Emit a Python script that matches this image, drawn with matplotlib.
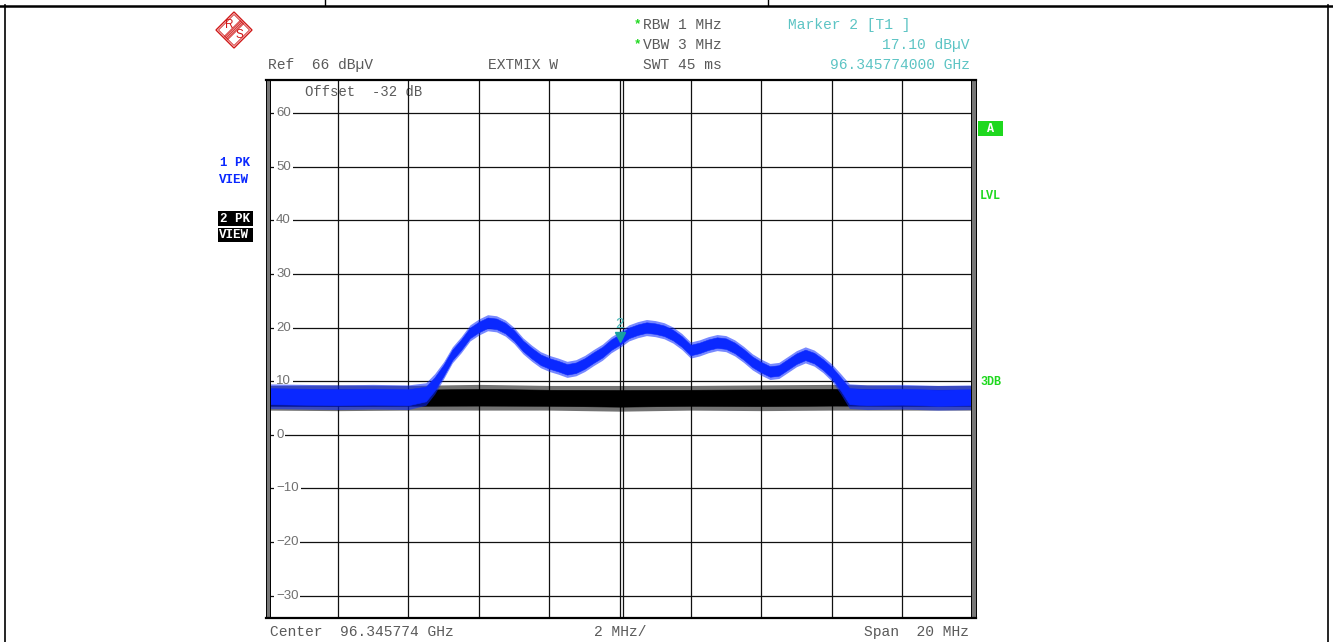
import matplotlib
matplotlib.use("Agg")
import matplotlib.pyplot as plt
from matplotlib.patches import Polygon, Rectangle
from matplotlib.transforms import offset_copy
import numpy as np

# ---------------- data ----------------
# frequency offset from centre (MHz), span 20 MHz
trace1_freq = [-10, -9, -8, -7, -6, -5.5, -5.25, -5, -4.75, -4.5, -4.25, -4,
               -3.75, -3.5, -3.25, -3, -2.75, -2.5, -2.25, -2, -1.75, -1.5,
               -1.25, -1, -0.75, -0.5, -0.25, 0, 0.25, 0.5, 0.75, 1, 1.25, 1.5,
               1.75, 2, 2.25, 2.5, 2.75, 3, 3.25, 3.5, 3.75, 4, 4.25, 4.5, 4.75,
               5, 5.25, 5.5, 5.75, 6, 6.25, 6.5, 7, 8, 9, 10]
# level (dBµV) of the middle of the noisy trace band
trace1_level = [7.2, 7.1, 7.0, 7.1, 7.0, 7.6, 9.5, 12.0, 14.9, 16.8, 19.0, 20.1,
                20.9, 20.7, 19.9, 18.5, 16.6, 15.2, 14.0, 13.3, 12.8, 12.2,
                12.5, 13.3, 14.4, 15.4, 16.8, 17.8, 19.0, 19.6, 20.0, 19.8, 19.4,
                18.6, 17.4, 15.8, 16.2, 16.8, 17.2, 17.0, 16.2, 15.0, 13.6, 12.6,
                11.8, 12.0, 13.1, 14.2, 14.9, 14.3, 13.1, 11.6, 9.5, 7.2, 7.0,
                7.1, 6.9, 7.0]
# half height (dB) of the noisy band
trace1_spread = [2.3, 2.3, 2.3, 2.3, 2.3, 2.1, 1.9, 1.6, 1.5, 1.5, 1.5, 1.5,
                 1.5, 1.5, 1.5, 1.5, 1.5, 1.5, 1.5, 1.5, 1.5, 1.5, 1.5, 1.5,
                 1.5, 1.5, 1.5, 1.5, 1.5, 1.5, 1.5, 1.5, 1.5, 1.5, 1.5, 1.5,
                 1.5, 1.5, 1.5, 1.5, 1.5, 1.5, 1.5, 1.5, 1.5, 1.5, 1.5, 1.5,
                 1.5, 1.5, 1.5, 1.6, 1.9, 2.3, 2.3, 2.3, 2.3, 2.3]

trace2_freq = [-10, -8, -6, -4, -2, 0, 2, 4, 6, 8, 10]
trace2_level = [6.9, 6.9, 6.9, 7.0, 6.9, 6.8, 6.9, 6.9, 7.0, 6.9, 6.9]
trace2_spread = [2.3, 2.4, 2.3, 2.4, 2.3, 2.4, 2.3, 2.4, 2.4, 2.3, 2.3]

marker_freq = 0.0
marker_level = 17.1

y_ticks = [60, 50, 40, 30, 20, 10, 0, -10, -20, -30]
x_grid = [-8, -6, -4, -2, 0, 2, 4, 6, 8]
ref_level = 66
bottom_level = -34

# ---------------- figure ----------------
W, H = 1333, 642
fig = plt.figure(figsize=(W / 100, H / 100), dpi=100)
fig.patch.set_facecolor("white")

MONO = "Liberation Mono"
SANS = "Liberation Sans"
GRAY = "#5a5a5a"
TEAL = "#5cc4c4"
GREEN = "#1ed81e"
BLUE = "#0a28ff"

L, R, T, B = 267, 973, 81, 617
ax = fig.add_axes([L / W, 1 - B / H, (R - L) / W, (B - T) / H])
ax.set_xlim(-10, 10)
ax.set_ylim(bottom_level, ref_level)
ax.set_xticks([])
ax.set_yticks([])
for s in ax.spines.values():
    s.set_visible(False)
ax.set_zorder(1)

for yv in y_ticks:
    ax.axhline(yv, color="#111111", lw=0.9, zorder=1)
    lbl = str(yv).replace("-", "\u2212")
    ax.text(-9.745, yv, lbl, fontsize=9.5, family=SANS, color="#707070",
            ha="left", va="center", zorder=2,
            bbox=dict(boxstyle="square,pad=0.15", fc="white", ec="none"))
for xv in x_grid:
    ax.axvline(xv, color="#111111", lw=0.9, zorder=1)
ax.axvline(0.085, color="#111111", lw=0.9, zorder=1)

ax.text(-8.93, 64.0, "Offset  -32 dB", family=MONO, fontsize=10, color=GRAY,
        ha="left", va="center", zorder=0.5)


def band(freq, level, spread, color, z):
    f = np.asarray(freq, float)
    lv = np.asarray(level, float)
    sp = np.asarray(spread, float)
    ax.fill_between(f, lv - sp, lv + sp, color=color, alpha=0.55, lw=0, zorder=z)
    ax.fill_between(f, lv - 0.65 * sp, lv + 0.65 * sp, color=color, lw=0.4,
                    zorder=z + 0.1)


band(trace2_freq, trace2_level, trace2_spread, "black", 3)
band(trace1_freq, trace1_level, trace1_spread, BLUE, 4)

tr = offset_copy(ax.transData, fig=fig, x=0, y=4.5, units="points")
ax.plot([marker_freq], [marker_level], marker="v", color="#17a0a0", ms=7,
        transform=tr, zorder=6, lw=0)
ax.annotate("2", (marker_freq, marker_level), xytext=(0, 14),
            textcoords="offset points", ha="center", va="center",
            fontsize=11, family=SANS, color="#48b8b8", zorder=6)

# ---------------- overlay in pixel coordinates ----------------
ov = fig.add_axes([0, 0, 1, 1])
ov.set_xlim(0, W)
ov.set_ylim(H, 0)
ov.axis("off")
ov.patch.set_alpha(0)
ov.set_zorder(2)

# outer page border
ov.plot([0, W], [5.5, 5.5], color="black", lw=1.8)
ov.plot([4.5, 4.5], [5, H], color="black", lw=1.2)
ov.plot([1328, 1328], [5, H], color="black", lw=1.2)
ov.plot([325, 325], [0, 5], color="black", lw=1.0)
ov.plot([768, 768], [0, 5], color="black", lw=1.0)

# plot frame
ov.add_patch(Rectangle((265.5, 80), 4, 538, fc="#777777", ec="black", lw=0.7))
ov.add_patch(Rectangle((971, 80), 4.5, 538, fc="#777777", ec="black", lw=0.7))
ov.plot([265.5, 976], [80, 80], color="black", lw=1.6)
ov.plot([265.5, 976], [617.5, 617.5], color="black", lw=1.6)

# R&S logo
red = "#d01818"
cx, cy, r = 234, 30, 18
ov.add_patch(Polygon([(cx, cy - r), (cx + r, cy), (cx, cy + r), (cx - r, cy)],
                     closed=True, fill=False, ec=red, lw=1.0))
r2 = r - 2.5
ov.add_patch(Polygon([(cx, cy - r2), (cx + r2, cy), (cx, cy + r2), (cx - r2, cy)],
                     closed=True, fill=False, ec=red, lw=0.6))
for d in [-2.4, -1.2, 0, 1.2, 2.4]:
    o = d / 1.414
    ov.plot([cx + 8 + o, cx - 8 + o], [cy - 8 + o, cy + 8 + o], color=red, lw=0.6)
ov.text(cx - 5, cy - 5.5, "R", color=red, fontsize=8.5, family=SANS, ha="center", va="center")
ov.text(cx + 5, cy + 5, "S", color=red, fontsize=8.5, family=SANS, ha="center", va="center")


def t(x, y, s, **kw):
    kw.setdefault("family", MONO)
    kw.setdefault("fontsize", 10.5)
    kw.setdefault("color", GRAY)
    kw.setdefault("ha", "left")
    kw.setdefault("va", "center")
    ov.text(x, y, s, **kw)


t(634, 24, "*", color=GREEN, fontsize=9, weight="bold")
t(634, 44, "*", color=GREEN, fontsize=9, weight="bold")
t(643, 25, "RBW 1 MHz")
t(643, 45, "VBW 3 MHz")
t(643, 65, "SWT 45 ms")
t(788, 25, "Marker 2 [T1 ]", color=TEAL)
t(970, 45, "17.10 dB\u00b5V", color=TEAL, ha="right")
t(970, 65, "96.345774000 GHz", color=TEAL, ha="right")
t(268, 65, "Ref  66 dB\u00b5V")
t(488, 65, "EXTMIX W")

t(270, 632, "Center  96.345774 GHz")
t(594, 632, "2 MHz/")
t(969, 632, "Span  20 MHz", ha="right")

# side annotations
t(220, 163, "1 PK", color=BLUE, fontsize=9, weight="bold")
t(219, 180, "VIEW", color=BLUE, fontsize=9, weight="bold")
ov.add_patch(Rectangle((218, 211), 35, 15, fc="black", ec="none"))
ov.add_patch(Rectangle((218, 228), 35, 14, fc="black", ec="none"))
t(220, 218.5, "2 PK", color="white", fontsize=9, weight="bold")
t(219, 235, "VIEW", color="white", fontsize=9, weight="bold")

ov.add_patch(Rectangle((978, 121), 25, 15, fc=GREEN, ec="none"))
t(990.5, 128.5, "A", color="white", fontsize=8.5, weight="bold", ha="center")
t(980, 196, "LVL", color=GREEN, fontsize=8.5, weight="bold")
t(980, 382, "3DB", color=GREEN, fontsize=8.5, weight="bold")

fig.savefig("out.png", dpi=100, facecolor="white")
